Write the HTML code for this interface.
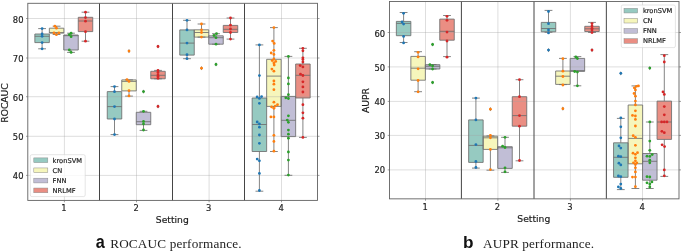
<!DOCTYPE html>
<html><head><meta charset="utf-8"><title>Performance</title>
<style>
html,body{margin:0;padding:0;background:#fff}
svg{display:block;will-change:transform;transform:translateZ(0)}
text{font-family:"DejaVu Sans","Liberation Sans",sans-serif;fill:#1c1c1c;stroke:#1c1c1c;stroke-width:0.18px}
.cd{font-family:"DejaVu Sans Condensed","DejaVu Sans","Liberation Sans",sans-serif}
.cap{font-family:"Liberation Serif",serif;fill:#222;stroke:none}
.lab{font-family:"Liberation Sans",sans-serif;font-weight:bold;fill:#111;stroke:none}
</style></head><body>
<svg width="685" height="252" viewBox="0 0 685 252">
<rect width="685" height="252" fill="#fff"/>
<g id="panel-a">
<rect x="34.85" y="34" width="14.5" height="8.6" fill="#96cac1"/>
<rect x="49.35" y="28.2" width="14.5" height="4.9" fill="#f6f6bc"/>
<rect x="63.75" y="35" width="14.5" height="15" fill="#c1bed6"/>
<rect x="78.25" y="17.3" width="14.5" height="14.3" fill="#ea8e83"/>
<rect x="107.25" y="91.6" width="14.5" height="27.4" fill="#96cac1"/>
<rect x="121.75" y="79.9" width="14.5" height="11" fill="#f6f6bc"/>
<rect x="136.25" y="112.3" width="14.5" height="12.4" fill="#c1bed6"/>
<rect x="150.75" y="71.3" width="14.5" height="7.5" fill="#ea8e83"/>
<rect x="179.75" y="29.9" width="14.5" height="25.2" fill="#96cac1"/>
<rect x="194.25" y="29.8" width="14.5" height="7.3" fill="#f6f6bc"/>
<rect x="208.75" y="35.8" width="14.5" height="8.4" fill="#c1bed6"/>
<rect x="223.25" y="25.4" width="14.5" height="7.1" fill="#ea8e83"/>
<rect x="252.15" y="98" width="14.5" height="53.5" fill="#96cac1"/>
<rect x="266.65" y="59.3" width="14.5" height="47.1" fill="#f6f6bc"/>
<rect x="281.15" y="96.4" width="14.5" height="40.2" fill="#c1bed6"/>
<rect x="295.65" y="64" width="14.5" height="34" fill="#ea8e83"/>
<path d="M64.4 3.3V200.4M136.5 3.3V200.4M209.1 3.3V200.4M281.5 3.3V200.4M27.8 18.5H317.5M27.8 58H317.5M27.8 96.7H317.5M27.8 136.3H317.5M27.8 175.4H317.5" stroke="#a0a0a0" stroke-opacity="0.5" stroke-width="0.7" fill="none"/>
<path d="M42.1 28.6V34M42.1 42.6V48.8M38.2 28.6h7.8M38.2 48.8h7.8M34.85 34h14.5V42.6h-14.5zM34.85 36.3h14.5" stroke="#6e6e6e" stroke-width="0.85" fill="none"/>
<path d="M56.6 26.2V28.2M56.6 33.1V34.5M52.7 26.2h7.8M52.7 34.5h7.8M49.35 28.2h14.5V33.1h-14.5zM49.35 32.6h14.5" stroke="#6e6e6e" stroke-width="0.85" fill="none"/>
<path d="M71 33.2V35M71 50V52.4M67.1 33.2h7.8M67.1 52.4h7.8M63.75 35h14.5V50h-14.5zM63.75 35.7h14.5" stroke="#6e6e6e" stroke-width="0.85" fill="none"/>
<path d="M85.5 12.2V17.3M85.5 31.6V41.2M81.6 12.2h7.8M81.6 41.2h7.8M78.25 17.3h14.5V31.6h-14.5zM78.25 21h14.5" stroke="#6e6e6e" stroke-width="0.85" fill="none"/>
<path d="M114.5 86.6V91.6M114.5 119V134.6M110.6 86.6h7.8M110.6 134.6h7.8M107.25 91.6h14.5V119h-14.5zM107.25 106.6h14.5" stroke="#6e6e6e" stroke-width="0.85" fill="none"/>
<path d="M129 79.9V79.9M129 90.9V96.1M125.1 79.9h7.8M125.1 96.1h7.8M121.75 79.9h14.5V90.9h-14.5zM121.75 81.4h14.5" stroke="#6e6e6e" stroke-width="0.85" fill="none"/>
<path d="M129 49l1.1 2.1l-1.1 2.1l-1.1 -2.1z" fill="#6a6a6a"/>
<circle cx="129" cy="51.1" r="1.4" fill="#ff7f0e"/>
<path d="M143.5 111.3V112.3M143.5 124.7V130.4M139.6 111.3h7.8M139.6 130.4h7.8M136.25 112.3h14.5V124.7h-14.5zM136.25 121.7h14.5" stroke="#6e6e6e" stroke-width="0.85" fill="none"/>
<path d="M143.5 89.5l1.1 2.1l-1.1 2.1l-1.1 -2.1z" fill="#6a6a6a"/>
<circle cx="143.5" cy="91.6" r="1.4" fill="#2ca02c"/>
<path d="M158 70.4V71.3M158 78.8V78.8M154.1 70.4h7.8M154.1 78.8h7.8M150.75 71.3h14.5V78.8h-14.5zM150.75 75.3h14.5" stroke="#6e6e6e" stroke-width="0.85" fill="none"/>
<path d="M158 44.4l1.1 2.1l-1.1 2.1l-1.1 -2.1z" fill="#6a6a6a"/>
<circle cx="158" cy="46.5" r="1.4" fill="#d62728"/>
<path d="M158 104.3l1.1 2.1l-1.1 2.1l-1.1 -2.1z" fill="#6a6a6a"/>
<circle cx="158" cy="106.4" r="1.4" fill="#d62728"/>
<path d="M187 20.3V29.9M187 55.1V58.7M183.1 20.3h7.8M183.1 58.7h7.8M179.75 29.9h14.5V55.1h-14.5zM179.75 43.1h14.5" stroke="#6e6e6e" stroke-width="0.85" fill="none"/>
<path d="M201.5 24V29.8M201.5 37.1V37.1M197.6 24h7.8M197.6 37.1h7.8M194.25 29.8h14.5V37.1h-14.5zM194.25 32.5h14.5" stroke="#6e6e6e" stroke-width="0.85" fill="none"/>
<path d="M201.5 66.1l1.1 2.1l-1.1 2.1l-1.1 -2.1z" fill="#6a6a6a"/>
<circle cx="201.5" cy="68.2" r="1.4" fill="#ff7f0e"/>
<path d="M216 33.7V35.8M216 44.2V44.2M212.1 33.7h7.8M212.1 44.2h7.8M208.75 35.8h14.5V44.2h-14.5zM208.75 37.7h14.5" stroke="#6e6e6e" stroke-width="0.85" fill="none"/>
<path d="M216 62.3l1.1 2.1l-1.1 2.1l-1.1 -2.1z" fill="#6a6a6a"/>
<circle cx="216" cy="64.4" r="1.4" fill="#2ca02c"/>
<path d="M230.5 18V25.4M230.5 32.5V39.1M226.6 18h7.8M226.6 39.1h7.8M223.25 25.4h14.5V32.5h-14.5zM223.25 29.3h14.5" stroke="#6e6e6e" stroke-width="0.85" fill="none"/>
<path d="M259.4 44.9V98M259.4 151.5V191.2M255.5 44.9h7.8M255.5 191.2h7.8M252.15 98h14.5V151.5h-14.5zM252.15 124.5h14.5" stroke="#6e6e6e" stroke-width="0.85" fill="none"/>
<path d="M273.9 27.6V59.3M273.9 106.4V151.5M270 27.6h7.8M270 151.5h7.8M266.65 59.3h14.5V106.4h-14.5zM266.65 76.1h14.5" stroke="#6e6e6e" stroke-width="0.85" fill="none"/>
<path d="M288.4 56.4V96.4M288.4 136.6V175.3M284.5 56.4h7.8M284.5 175.3h7.8M281.15 96.4h14.5V136.6h-14.5zM281.15 120.3h14.5" stroke="#6e6e6e" stroke-width="0.85" fill="none"/>
<path d="M302.9 48.3V64M302.9 98V137.4M299 48.3h7.8M299 137.4h7.8M295.65 64h14.5V98h-14.5zM295.65 75.3h14.5" stroke="#6e6e6e" stroke-width="0.85" fill="none"/>
<g fill="#1f77b4"><circle cx="42.1" cy="28.6" r="1.4"/><circle cx="42.1" cy="34" r="1.4"/><circle cx="42.1" cy="36.3" r="1.4"/><circle cx="42.1" cy="42.6" r="1.4"/><circle cx="42.1" cy="48.8" r="1.4"/></g>
<g fill="#ff7f0e"><circle cx="54.9" cy="26.2" r="1.4"/><circle cx="56.4" cy="28.2" r="1.4"/><circle cx="54" cy="33" r="1.4"/><circle cx="58.9" cy="32.8" r="1.4"/><circle cx="56.4" cy="34.7" r="1.4"/></g>
<g fill="#2ca02c"><circle cx="71.1" cy="33.2" r="1.4"/><circle cx="69.3" cy="34.7" r="1.4"/><circle cx="71.1" cy="36.7" r="1.4"/><circle cx="69.3" cy="50" r="1.4"/><circle cx="71.1" cy="52.4" r="1.4"/></g>
<g fill="#d62728"><circle cx="85.5" cy="12.2" r="1.4"/><circle cx="85.5" cy="17.6" r="1.4"/><circle cx="85.5" cy="21.2" r="1.4"/><circle cx="85.5" cy="31.7" r="1.4"/><circle cx="85.5" cy="41.2" r="1.4"/></g>
<g fill="#1f77b4"><circle cx="114.5" cy="86.6" r="1.4"/><circle cx="114.5" cy="91.7" r="1.4"/><circle cx="114.5" cy="106.6" r="1.4"/><circle cx="114.5" cy="119" r="1.4"/><circle cx="114.5" cy="134.6" r="1.4"/></g>
<g fill="#ff7f0e"><circle cx="127" cy="79.6" r="1.4"/><circle cx="129" cy="81.4" r="1.4"/><circle cx="129" cy="90.7" r="1.4"/><circle cx="129" cy="95.9" r="1.4"/></g>
<g fill="#2ca02c"><circle cx="143.5" cy="111.3" r="1.4"/><circle cx="143.5" cy="121.4" r="1.4"/><circle cx="143.5" cy="123.9" r="1.4"/><circle cx="143.5" cy="130" r="1.4"/></g>
<g fill="#d62728"><circle cx="158" cy="70.4" r="1.4"/><circle cx="158" cy="72.5" r="1.4"/><circle cx="158" cy="75" r="1.4"/><circle cx="158" cy="76.6" r="1.4"/><circle cx="158" cy="78.3" r="1.4"/></g>
<g fill="#1f77b4"><circle cx="187" cy="20.3" r="1.4"/><circle cx="187" cy="29.9" r="1.4"/><circle cx="187" cy="43.1" r="1.4"/><circle cx="187" cy="54.7" r="1.4"/><circle cx="187" cy="58.7" r="1.4"/></g>
<g fill="#ff7f0e"><circle cx="201.5" cy="24" r="1.4"/><circle cx="201.5" cy="29.8" r="1.4"/><circle cx="201.5" cy="32.5" r="1.4"/><circle cx="201.5" cy="37.1" r="1.4"/></g>
<g fill="#2ca02c"><circle cx="216.5" cy="33.7" r="1.4"/><circle cx="214" cy="35.5" r="1.4"/><circle cx="216" cy="37.7" r="1.4"/><circle cx="216" cy="44.2" r="1.4"/></g>
<g fill="#d62728"><circle cx="230.5" cy="18" r="1.4"/><circle cx="230.5" cy="25.2" r="1.4"/><circle cx="230.5" cy="29" r="1.4"/><circle cx="230.5" cy="32.5" r="1.4"/><circle cx="230.5" cy="39.1" r="1.4"/></g>
<g fill="#1f77b4"><circle cx="259.4" cy="44.9" r="1.4"/><circle cx="259.4" cy="75.6" r="1.4"/><circle cx="257.1" cy="96.9" r="1.4"/><circle cx="261.6" cy="96.6" r="1.4"/><circle cx="259.4" cy="98.4" r="1.4"/><circle cx="259.4" cy="103.3" r="1.4"/><circle cx="257.2" cy="122" r="1.4"/><circle cx="259.4" cy="123.9" r="1.4"/><circle cx="259.4" cy="127.2" r="1.4"/><circle cx="259.4" cy="135" r="1.4"/><circle cx="259.4" cy="143.3" r="1.4"/><circle cx="257.2" cy="159.1" r="1.4"/><circle cx="259.4" cy="160.8" r="1.4"/><circle cx="259.4" cy="173.4" r="1.4"/><circle cx="259.4" cy="190.5" r="1.4"/></g>
<g fill="#ff7f0e"><circle cx="273.9" cy="27.6" r="1.4"/><circle cx="272.6" cy="41.1" r="1.4"/><circle cx="274.2" cy="43.4" r="1.4"/><circle cx="273.9" cy="50.3" r="1.4"/><circle cx="271.2" cy="53" r="1.4"/><circle cx="273.9" cy="54.4" r="1.4"/><circle cx="273.9" cy="59" r="1.4"/><circle cx="272.2" cy="60.6" r="1.4"/><circle cx="275.7" cy="61.4" r="1.4"/><circle cx="273.9" cy="62.9" r="1.4"/><circle cx="274.2" cy="65" r="1.4"/><circle cx="271.9" cy="69.1" r="1.4"/><circle cx="273.9" cy="71.2" r="1.4"/><circle cx="273.9" cy="81" r="1.4"/><circle cx="273.9" cy="84.2" r="1.4"/><circle cx="273.9" cy="89.7" r="1.4"/><circle cx="273.9" cy="102.2" r="1.4"/><circle cx="277.5" cy="104.7" r="1.4"/><circle cx="275.3" cy="106.1" r="1.4"/><circle cx="271.6" cy="106.9" r="1.4"/><circle cx="273.9" cy="108.3" r="1.4"/><circle cx="270.9" cy="116.9" r="1.4"/><circle cx="273.9" cy="116.9" r="1.4"/><circle cx="273.9" cy="135.3" r="1.4"/><circle cx="273.9" cy="141.4" r="1.4"/><circle cx="273.9" cy="151.2" r="1.4"/></g>
<g fill="#2ca02c"><circle cx="288.4" cy="56.4" r="1.4"/><circle cx="288.4" cy="78" r="1.4"/><circle cx="288.4" cy="83.9" r="1.4"/><circle cx="288.4" cy="94.7" r="1.4"/><circle cx="285.8" cy="97.8" r="1.4"/><circle cx="288.4" cy="98.5" r="1.4"/><circle cx="288.4" cy="115.8" r="1.4"/><circle cx="287.3" cy="120.1" r="1.4"/><circle cx="288.4" cy="122.3" r="1.4"/><circle cx="288.4" cy="130.1" r="1.4"/><circle cx="288.4" cy="134.2" r="1.4"/><circle cx="288.4" cy="138.2" r="1.4"/><circle cx="288.4" cy="152" r="1.4"/><circle cx="288.4" cy="160.1" r="1.4"/><circle cx="288.4" cy="175.1" r="1.4"/></g>
<g fill="#d62728"><circle cx="302.9" cy="48.3" r="1.4"/><circle cx="302.9" cy="50.8" r="1.4"/><circle cx="302.9" cy="57.8" r="1.4"/><circle cx="302.9" cy="59.4" r="1.4"/><circle cx="302.9" cy="62" r="1.4"/><circle cx="300.2" cy="65.6" r="1.4"/><circle cx="302.9" cy="66.9" r="1.4"/><circle cx="300.5" cy="74.2" r="1.4"/><circle cx="302.9" cy="75.5" r="1.4"/><circle cx="302.9" cy="81.8" r="1.4"/><circle cx="302.9" cy="86.9" r="1.4"/><circle cx="302.9" cy="92" r="1.4"/><circle cx="302.9" cy="104.7" r="1.4"/><circle cx="302.9" cy="112.8" r="1.4"/><circle cx="302.9" cy="118.2" r="1.4"/><circle cx="302.9" cy="137.4" r="1.4"/></g>
<path d="M99.5 3.3V200.4M172.5 3.3V200.4M244.5 3.3V200.4" stroke="#454545" stroke-width="1" fill="none"/>
<rect x="30.3" y="154.7" width="54.9" height="41.9" rx="1.6" fill="#fff" fill-opacity="0.8" stroke="#d4d4d4" stroke-width="0.6"/>
<rect x="33.8" y="157.9" width="14.0" height="4.7" fill="#96cac1" stroke="#8c8c8c" stroke-width="0.5"/>
<text x="52.6" y="162.65" font-size="6.7">kronSVM</text>
<rect x="33.8" y="167.95" width="14.0" height="4.7" fill="#f6f6bc" stroke="#8c8c8c" stroke-width="0.5"/>
<text x="52.6" y="172.7" font-size="6.7">CN</text>
<rect x="33.8" y="178.2" width="14.0" height="4.7" fill="#c1bed6" stroke="#8c8c8c" stroke-width="0.5"/>
<text x="52.6" y="182.95" font-size="6.7">FNN</text>
<rect x="33.8" y="188.05" width="14.0" height="4.7" fill="#ea8e83" stroke="#8c8c8c" stroke-width="0.5"/>
<text x="52.6" y="192.8" font-size="6.7">NRLMF</text>
<rect x="27.8" y="3.3" width="289.7" height="197.1" fill="none" stroke="#626262" stroke-width="0.9"/>
<path d="M27.8 18.5h-1.8M317.5 18.5h2M27.8 58h-1.8M317.5 58h2M27.8 96.7h-1.8M317.5 96.7h2M27.8 136.3h-1.8M317.5 136.3h2M27.8 175.4h-1.8M317.5 175.4h2M64.4 200.4v1.9M136.5 200.4v1.9M209.1 200.4v1.9M281.5 200.4v1.9" stroke="#626262" stroke-width="0.6" fill="none"/>
<text x="23.5" y="22.85" text-anchor="end" font-size="9.3" class="cd">80</text>
<text x="23.5" y="61.55" text-anchor="end" font-size="9.3" class="cd">70</text>
<text x="23.5" y="100.85" text-anchor="end" font-size="9.3" class="cd">60</text>
<text x="23.5" y="139.85" text-anchor="end" font-size="9.3" class="cd">50</text>
<text x="23.5" y="178.85" text-anchor="end" font-size="9.3" class="cd">40</text>
<text x="64" y="210.9" text-anchor="middle" font-size="9.3" class="cd">1</text>
<text x="136.1" y="210.9" text-anchor="middle" font-size="9.3" class="cd">2</text>
<text x="208.7" y="210.9" text-anchor="middle" font-size="9.3" class="cd">3</text>
<text x="281.1" y="210.9" text-anchor="middle" font-size="9.3" class="cd">4</text>
<text x="172.3" y="222.6" text-anchor="middle" font-size="9.2">Setting</text>
<text transform="translate(8.2 103.0) rotate(-90)" text-anchor="middle" font-size="9.2">ROCAUC</text>
</g>
<g id="panel-b">
<rect x="396.35" y="21.4" width="14.5" height="14.3" fill="#96cac1"/>
<rect x="410.85" y="56.4" width="14.5" height="23.8" fill="#f6f6bc"/>
<rect x="425.35" y="64.7" width="14.5" height="4.3" fill="#c1bed6"/>
<rect x="439.75" y="19.1" width="14.5" height="21.1" fill="#ea8e83"/>
<rect x="468.65" y="119.9" width="14.5" height="42.5" fill="#96cac1"/>
<rect x="483.15" y="136.2" width="14.5" height="13.2" fill="#f6f6bc"/>
<rect x="497.75" y="146.7" width="14.5" height="21.7" fill="#c1bed6"/>
<rect x="512.25" y="96.7" width="14.5" height="29.5" fill="#ea8e83"/>
<rect x="541.25" y="22.4" width="14.5" height="9.4" fill="#96cac1"/>
<rect x="555.65" y="71" width="14.5" height="13.4" fill="#f6f6bc"/>
<rect x="570.15" y="58.4" width="14.5" height="13" fill="#c1bed6"/>
<rect x="584.75" y="26.3" width="14.5" height="5.2" fill="#ea8e83"/>
<rect x="613.55" y="142.8" width="14.5" height="34.5" fill="#96cac1"/>
<rect x="628.15" y="105" width="14.5" height="58.8" fill="#f6f6bc"/>
<rect x="642.55" y="153.5" width="14.5" height="26.7" fill="#c1bed6"/>
<rect x="657.05" y="101.1" width="14.5" height="38.3" fill="#ea8e83"/>
<path d="M425.5 1.5V198.85M497.9 1.5V198.85M570.4 1.5V198.85M642.5 1.5V198.85M389.5 32.5H679M389.5 66.9H679M389.5 101.4H679M389.5 135.4H679M389.5 169.9H679" stroke="#a0a0a0" stroke-opacity="0.5" stroke-width="0.7" fill="none"/>
<path d="M403.6 12.5V21.4M403.6 35.7V42.5M399.7 12.5h7.8M399.7 42.5h7.8M396.35 21.4h14.5V35.7h-14.5zM396.35 23.4h14.5" stroke="#6e6e6e" stroke-width="0.85" fill="none"/>
<path d="M418.1 51.7V56.4M418.1 80.2V91.7M414.2 51.7h7.8M414.2 91.7h7.8M410.85 56.4h14.5V80.2h-14.5zM410.85 68.2h14.5" stroke="#6e6e6e" stroke-width="0.85" fill="none"/>
<path d="M432.6 64.5V64.7M432.6 69V69M428.7 64.5h7.8M428.7 69h7.8M425.35 64.7h14.5V69h-14.5zM425.35 66.3h14.5" stroke="#6e6e6e" stroke-width="0.85" fill="none"/>
<path d="M432.6 42.4l1.1 2.1l-1.1 2.1l-1.1 -2.1z" fill="#6a6a6a"/>
<circle cx="432.6" cy="44.5" r="1.4" fill="#2ca02c"/>
<path d="M432.6 80.4l1.1 2.1l-1.1 2.1l-1.1 -2.1z" fill="#6a6a6a"/>
<circle cx="432.6" cy="82.5" r="1.4" fill="#2ca02c"/>
<path d="M447 15.5V19.1M447 40.2V56.6M443.1 15.5h7.8M443.1 56.6h7.8M439.75 19.1h14.5V40.2h-14.5zM439.75 31.3h14.5" stroke="#6e6e6e" stroke-width="0.85" fill="none"/>
<path d="M475.9 98.1V119.9M475.9 162.4V168.1M472 98.1h7.8M472 168.1h7.8M468.65 119.9h14.5V162.4h-14.5zM468.65 145.4h14.5" stroke="#6e6e6e" stroke-width="0.85" fill="none"/>
<path d="M490.4 135.9V136.2M490.4 149.4V170.2M486.5 135.9h7.8M486.5 170.2h7.8M483.15 136.2h14.5V149.4h-14.5zM483.15 137.8h14.5" stroke="#6e6e6e" stroke-width="0.85" fill="none"/>
<path d="M490.4 107.1l1.1 2.1l-1.1 2.1l-1.1 -2.1z" fill="#6a6a6a"/>
<circle cx="490.4" cy="109.2" r="1.4" fill="#ff7f0e"/>
<path d="M505 137.3V146.7M505 168.4V172.4M501.1 137.3h7.8M501.1 172.4h7.8M497.75 146.7h14.5V168.4h-14.5zM497.75 147.8h14.5" stroke="#6e6e6e" stroke-width="0.85" fill="none"/>
<path d="M519.5 79.7V96.7M519.5 126.2V160.8M515.6 79.7h7.8M515.6 160.8h7.8M512.25 96.7h14.5V126.2h-14.5zM512.25 115.6h14.5" stroke="#6e6e6e" stroke-width="0.85" fill="none"/>
<path d="M548.5 10.4V22.4M548.5 31.8V32.3M544.6 10.4h7.8M544.6 32.3h7.8M541.25 22.4h14.5V31.8h-14.5zM541.25 28.5h14.5" stroke="#6e6e6e" stroke-width="0.85" fill="none"/>
<path d="M548.5 48l1.1 2.1l-1.1 2.1l-1.1 -2.1z" fill="#6a6a6a"/>
<circle cx="548.5" cy="50.1" r="1.4" fill="#1f77b4"/>
<path d="M562.9 58.4V71M562.9 84.4V84.6M559 58.4h7.8M559 84.6h7.8M555.65 71h14.5V84.4h-14.5zM555.65 76.2h14.5" stroke="#6e6e6e" stroke-width="0.85" fill="none"/>
<path d="M562.9 106.6l1.1 2.1l-1.1 2.1l-1.1 -2.1z" fill="#6a6a6a"/>
<circle cx="562.9" cy="108.7" r="1.4" fill="#ff7f0e"/>
<path d="M577.4 56.6V58.4M577.4 71.4V85.8M573.5 56.6h7.8M573.5 85.8h7.8M570.15 58.4h14.5V71.4h-14.5zM570.15 70.6h14.5" stroke="#6e6e6e" stroke-width="0.85" fill="none"/>
<path d="M592 22.4V26.3M592 31.5V32.5M588.1 22.4h7.8M588.1 32.5h7.8M584.75 26.3h14.5V31.5h-14.5zM584.75 28.8h14.5" stroke="#6e6e6e" stroke-width="0.85" fill="none"/>
<path d="M592 48l1.1 2.1l-1.1 2.1l-1.1 -2.1z" fill="#6a6a6a"/>
<circle cx="592" cy="50.1" r="1.4" fill="#d62728"/>
<path d="M620.8 118.4V142.8M620.8 177.3V189.6M616.9 118.4h7.8M616.9 189.6h7.8M613.55 142.8h14.5V177.3h-14.5zM613.55 157.3h14.5" stroke="#6e6e6e" stroke-width="0.85" fill="none"/>
<path d="M620.8 71.2l1.1 2.1l-1.1 2.1l-1.1 -2.1z" fill="#6a6a6a"/>
<circle cx="620.8" cy="73.3" r="1.4" fill="#1f77b4"/>
<path d="M635.4 85.9V105M635.4 163.8V188.5M631.5 85.9h7.8M631.5 188.5h7.8M628.15 105h14.5V163.8h-14.5zM628.15 138.4h14.5" stroke="#6e6e6e" stroke-width="0.85" fill="none"/>
<path d="M649.8 122V153.5M649.8 180.2V188.5M645.9 122h7.8M645.9 188.5h7.8M642.55 153.5h14.5V180.2h-14.5zM642.55 161.3h14.5" stroke="#6e6e6e" stroke-width="0.85" fill="none"/>
<path d="M649.8 66l1.1 2.1l-1.1 2.1l-1.1 -2.1z" fill="#6a6a6a"/>
<circle cx="649.8" cy="68.1" r="1.4" fill="#2ca02c"/>
<path d="M664.3 54.6V101.1M664.3 139.4V176.4M660.4 54.6h7.8M660.4 176.4h7.8M657.05 101.1h14.5V139.4h-14.5zM657.05 122h14.5" stroke="#6e6e6e" stroke-width="0.85" fill="none"/>
<g fill="#1f77b4"><circle cx="403.6" cy="13.3" r="1.4"/><circle cx="402.1" cy="22" r="1.4"/><circle cx="403.6" cy="24.1" r="1.4"/><circle cx="403.6" cy="36.4" r="1.4"/><circle cx="403.6" cy="42.9" r="1.4"/></g>
<g fill="#ff7f0e"><circle cx="418.1" cy="52.3" r="1.4"/><circle cx="418.1" cy="56.9" r="1.4"/><circle cx="418.1" cy="68.8" r="1.4"/><circle cx="418.1" cy="80.5" r="1.4"/><circle cx="418.1" cy="91.8" r="1.4"/></g>
<g fill="#2ca02c"><circle cx="429.9" cy="64.7" r="1.4"/><circle cx="432.6" cy="65.8" r="1.4"/><circle cx="432.6" cy="69" r="1.4"/></g>
<g fill="#d62728"><circle cx="447" cy="16.3" r="1.4"/><circle cx="447" cy="20.3" r="1.4"/><circle cx="447" cy="32.1" r="1.4"/><circle cx="447" cy="41" r="1.4"/><circle cx="447" cy="57.2" r="1.4"/></g>
<g fill="#1f77b4"><circle cx="475.9" cy="98.1" r="1.4"/><circle cx="475.9" cy="119.9" r="1.4"/><circle cx="475.9" cy="144.6" r="1.4"/><circle cx="475.9" cy="161.5" r="1.4"/><circle cx="475.9" cy="167.5" r="1.4"/></g>
<g fill="#ff7f0e"><circle cx="490.4" cy="135.3" r="1.4"/><circle cx="490.4" cy="137.8" r="1.4"/><circle cx="490.4" cy="149.4" r="1.4"/><circle cx="490.4" cy="169.6" r="1.4"/></g>
<g fill="#2ca02c"><circle cx="505" cy="137.3" r="1.4"/><circle cx="502.6" cy="146.2" r="1.4"/><circle cx="505" cy="147.5" r="1.4"/><circle cx="505" cy="167.8" r="1.4"/><circle cx="505" cy="171.8" r="1.4"/></g>
<g fill="#d62728"><circle cx="519.5" cy="79.7" r="1.4"/><circle cx="519.5" cy="96.7" r="1.4"/><circle cx="519.5" cy="115.6" r="1.4"/><circle cx="519.5" cy="126.2" r="1.4"/><circle cx="519.5" cy="160.5" r="1.4"/></g>
<g fill="#1f77b4"><circle cx="548.5" cy="11.5" r="1.4"/><circle cx="548.5" cy="23.7" r="1.4"/><circle cx="548.5" cy="29.9" r="1.4"/><circle cx="548.5" cy="32.9" r="1.4"/></g>
<g fill="#ff7f0e"><circle cx="562.9" cy="58.7" r="1.4"/><circle cx="562.9" cy="71.2" r="1.4"/><circle cx="562.9" cy="76.5" r="1.4"/><circle cx="562.9" cy="85" r="1.4"/></g>
<g fill="#2ca02c"><circle cx="575.8" cy="56.9" r="1.4"/><circle cx="577.4" cy="58.5" r="1.4"/><circle cx="574.7" cy="71.5" r="1.4"/><circle cx="577.4" cy="72.1" r="1.4"/><circle cx="577.4" cy="85.8" r="1.4"/></g>
<g fill="#d62728"><circle cx="592" cy="23.6" r="1.4"/><circle cx="592" cy="26.1" r="1.4"/><circle cx="592" cy="28.3" r="1.4"/><circle cx="592" cy="29.9" r="1.4"/><circle cx="592" cy="32.6" r="1.4"/></g>
<g fill="#1f77b4"><circle cx="620.8" cy="117.8" r="1.4"/><circle cx="620.8" cy="126.8" r="1.4"/><circle cx="620.8" cy="137.8" r="1.4"/><circle cx="619" cy="145.9" r="1.4"/><circle cx="620.8" cy="148.1" r="1.4"/><circle cx="618.4" cy="156.2" r="1.4"/><circle cx="620.8" cy="156.7" r="1.4"/><circle cx="618.9" cy="163.2" r="1.4"/><circle cx="620.8" cy="164.9" r="1.4"/><circle cx="618.4" cy="176" r="1.4"/><circle cx="620.8" cy="176.7" r="1.4"/><circle cx="620.8" cy="184.1" r="1.4"/><circle cx="618.4" cy="186.9" r="1.4"/><circle cx="620.8" cy="188.5" r="1.4"/></g>
<g fill="#ff7f0e"><circle cx="638.4" cy="85.9" r="1.4"/><circle cx="636.5" cy="86.3" r="1.4"/><circle cx="634.3" cy="87.8" r="1.4"/><circle cx="635.4" cy="89.9" r="1.4"/><circle cx="634.1" cy="93.5" r="1.4"/><circle cx="635.4" cy="96.2" r="1.4"/><circle cx="635.4" cy="101.1" r="1.4"/><circle cx="635.4" cy="104.9" r="1.4"/><circle cx="635.4" cy="110.8" r="1.4"/><circle cx="632.5" cy="115.4" r="1.4"/><circle cx="635.4" cy="116" r="1.4"/><circle cx="635.4" cy="119.4" r="1.4"/><circle cx="635.4" cy="126" r="1.4"/><circle cx="633.2" cy="135.7" r="1.4"/><circle cx="635.4" cy="137.3" r="1.4"/><circle cx="635.4" cy="145.3" r="1.4"/><circle cx="633" cy="153.2" r="1.4"/><circle cx="637.5" cy="152.7" r="1.4"/><circle cx="635.4" cy="154.3" r="1.4"/><circle cx="635.4" cy="157.8" r="1.4"/><circle cx="635.4" cy="160.8" r="1.4"/><circle cx="633.5" cy="162.8" r="1.4"/><circle cx="636.8" cy="162.8" r="1.4"/><circle cx="635.4" cy="164.5" r="1.4"/><circle cx="635.4" cy="167.8" r="1.4"/><circle cx="635.4" cy="171.9" r="1.4"/><circle cx="632.5" cy="177.1" r="1.4"/><circle cx="635.4" cy="177.1" r="1.4"/><circle cx="635.4" cy="186.7" r="1.4"/></g>
<g fill="#2ca02c"><circle cx="649.8" cy="121.9" r="1.4"/><circle cx="649.8" cy="141.1" r="1.4"/><circle cx="649.8" cy="150.3" r="1.4"/><circle cx="647" cy="156.2" r="1.4"/><circle cx="649.8" cy="156.4" r="1.4"/><circle cx="652.2" cy="154.6" r="1.4"/><circle cx="649.8" cy="160.2" r="1.4"/><circle cx="649.8" cy="162.8" r="1.4"/><circle cx="647" cy="176.7" r="1.4"/><circle cx="649.8" cy="177" r="1.4"/><circle cx="647" cy="182.8" r="1.4"/><circle cx="651.9" cy="181.9" r="1.4"/><circle cx="649.8" cy="184.1" r="1.4"/><circle cx="649.8" cy="187" r="1.4"/></g>
<g fill="#d62728"><circle cx="664.3" cy="55.7" r="1.4"/><circle cx="664.3" cy="62" r="1.4"/><circle cx="663" cy="91.9" r="1.4"/><circle cx="664.3" cy="94.4" r="1.4"/><circle cx="664.3" cy="106.6" r="1.4"/><circle cx="664.3" cy="114.8" r="1.4"/><circle cx="661.6" cy="121.9" r="1.4"/><circle cx="664.3" cy="121.9" r="1.4"/><circle cx="667" cy="121.9" r="1.4"/><circle cx="661.9" cy="131.3" r="1.4"/><circle cx="664.3" cy="132.7" r="1.4"/><circle cx="662.1" cy="144.8" r="1.4"/><circle cx="664.6" cy="146.6" r="1.4"/><circle cx="664.3" cy="169.9" r="1.4"/><circle cx="664.3" cy="175.8" r="1.4"/></g>
<path d="M461.4 1.5V198.85M534 1.5V198.85M606.35 1.5V198.85" stroke="#454545" stroke-width="1" fill="none"/>
<rect x="621.3" y="5.0" width="54.1" height="42.6" rx="1.6" fill="#fff" fill-opacity="0.8" stroke="#d4d4d4" stroke-width="0.6"/>
<rect x="624.0" y="8.35" width="13.6" height="4.6" fill="#96cac1" stroke="#8c8c8c" stroke-width="0.5"/>
<text x="642.9" y="13.05" font-size="6.7">kronSVM</text>
<rect x="624.0" y="18.4" width="13.6" height="4.6" fill="#f6f6bc" stroke="#8c8c8c" stroke-width="0.5"/>
<text x="642.9" y="23.1" font-size="6.7">CN</text>
<rect x="624.0" y="28.6" width="13.6" height="4.6" fill="#c1bed6" stroke="#8c8c8c" stroke-width="0.5"/>
<text x="642.9" y="33.3" font-size="6.7">FNN</text>
<rect x="624.0" y="38.7" width="13.6" height="4.6" fill="#ea8e83" stroke="#8c8c8c" stroke-width="0.5"/>
<text x="642.9" y="43.4" font-size="6.7">NRLMF</text>
<rect x="389.5" y="1.5" width="289.5" height="197.35" fill="none" stroke="#626262" stroke-width="0.9"/>
<path d="M389.5 32.5h-1.8M679 32.5h2M389.5 66.9h-1.8M679 66.9h2M389.5 101.4h-1.8M679 101.4h2M389.5 135.4h-1.8M679 135.4h2M389.5 169.9h-1.8M679 169.9h2M425.5 198.85v1.9M497.9 198.85v1.9M570.4 198.85v1.9M642.5 198.85v1.9" stroke="#626262" stroke-width="0.6" fill="none"/>
<text x="385.2" y="36.95" text-anchor="end" font-size="9.3" class="cd">60</text>
<text x="385.2" y="70.55" text-anchor="end" font-size="9.3" class="cd">50</text>
<text x="385.2" y="104.75" text-anchor="end" font-size="9.3" class="cd">40</text>
<text x="385.2" y="139.25" text-anchor="end" font-size="9.3" class="cd">30</text>
<text x="385.2" y="173.35" text-anchor="end" font-size="9.3" class="cd">20</text>
<text x="425.1" y="209.7" text-anchor="middle" font-size="9.3" class="cd">1</text>
<text x="497.5" y="209.7" text-anchor="middle" font-size="9.3" class="cd">2</text>
<text x="570" y="209.7" text-anchor="middle" font-size="9.3" class="cd">3</text>
<text x="642.1" y="209.7" text-anchor="middle" font-size="9.3" class="cd">4</text>
<text x="533.8" y="221.5" text-anchor="middle" font-size="9.2">Setting</text>
<text transform="translate(368.6 100.6) rotate(-90)" text-anchor="middle" font-size="9.2">AUPR</text>
</g>
<text class="lab" transform="translate(95.7 247.7) scale(0.9 1)" font-size="18">a</text>
<text class="cap" x="110.2" y="247.6" font-size="13.2" textLength="131.4" lengthAdjust="spacing">ROCAUC performance.</text>
<text class="lab" x="463" y="247.6" font-size="17.2">b</text>
<text class="cap" x="483" y="247.6" font-size="13.2" textLength="111.0" lengthAdjust="spacing">AUPR performance.</text>
</svg>
</body></html>
